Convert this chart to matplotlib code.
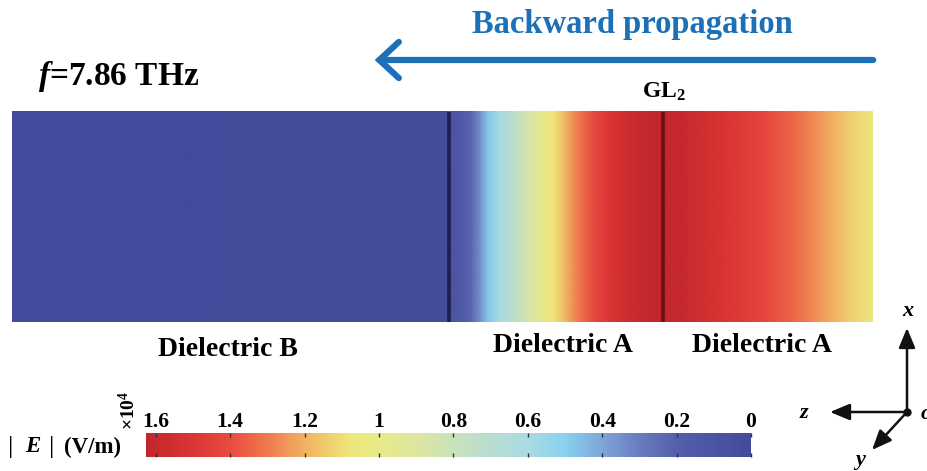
import matplotlib
matplotlib.use('Agg')
import matplotlib.pyplot as plt
from matplotlib.colors import LinearSegmentedColormap, Normalize
from matplotlib.image import NonUniformImage
from matplotlib.patches import FancyArrowPatch
import numpy as np

plt.rcParams['font.family'] = ['Liberation Serif', 'DejaVu Serif']
plt.rcParams['font.weight'] = 'bold'
plt.rcParams['mathtext.fontset'] = 'custom'
plt.rcParams['mathtext.rm'] = 'Liberation Serif:bold'
plt.rcParams['mathtext.it'] = 'Liberation Serif:italic:bold'
plt.rcParams['mathtext.bf'] = 'Liberation Serif:bold'

# |E| profile along z (x1e4 V/m), z in units of 10 px across the map
z_pos = [0.0, 43.6, 44.0, 45.0, 45.8, 46.6, 47.6, 48.8, 50.1, 51.6, 53.1,
         54.1, 55.1, 56.1, 57.1, 58.3, 59.8, 61.8, 63.8, 65.1, 66.8, 68.8,
         71.8, 74.8, 77.8, 79.8, 81.8, 83.8, 86.0]
e_mag = [0.0, 0.02, 0.09, 0.15, 0.22, 0.33, 0.48, 0.60, 0.72, 0.87, 1.00,
         1.08, 1.17, 1.26, 1.34, 1.42, 1.50, 1.57, 1.61, 1.62, 1.60, 1.56,
         1.49, 1.43, 1.35, 1.28, 1.21, 1.13, 1.05]
x_span = [0.0, 21.0]

# layer interfaces
boundary_z = [43.7, 65.1]
boundary_colors = ['#1c2050', '#6a1014']

e_max = 1.626
cbar_ticks = [1.6, 1.4, 1.2, 1.0, 0.8, 0.6, 0.4, 0.2, 0.0]
cbar_labels = ['1.6', '1.4', '1.2', '1', '0.8', '0.6', '0.4', '0.2', '0']

cmap_vals = [0.0, 0.2, 0.3, 0.4, 0.5, 0.6, 0.7, 0.8, 0.9, 1.0, 1.08, 1.2,
             1.3, 1.4, 1.5, 1.626]
cmap_cols = ['#434a9b', '#5560ac', '#6a7cc0', '#7fa6d8', '#88d2f0', '#aadbe0',
             '#b8ddd0', '#c9e2ba', '#dde6a0', '#e8e98a', '#eee67a', '#f2b262',
             '#ef7a4e', '#e84c40', '#dc3535', '#c0272b']
cmap = LinearSegmentedColormap.from_list(
    'field', [(v / e_max, c) for v, c in zip(cmap_vals, cmap_cols)])
norm = Normalize(vmin=0, vmax=e_max)

W, H = 928, 471
fig = plt.figure(figsize=(W / 100, H / 100), dpi=100)


def px_axes(left, top, right, bottom):
    return fig.add_axes([left / W, 1 - bottom / H, (right - left) / W, (bottom - top) / H])


# field map
ax = px_axes(12, 112, 872, 322)
im = NonUniformImage(ax, interpolation='bilinear', cmap=cmap, norm=norm,
                     extent=(z_pos[0], z_pos[-1], x_span[0], x_span[1]))
im.set_data(np.array(z_pos), np.array(x_span), np.vstack([e_mag, e_mag]))
ax.add_image(im)
for zb, col in zip(boundary_z, boundary_colors):
    ax.axvline(zb, color=col, lw=2.6)
ax.set_xlim(z_pos[0], z_pos[-1])
ax.set_ylim(x_span)
ax.axis('off')

# colorbar
cax = px_axes(146, 433, 751, 457)
cb = fig.colorbar(im, cax=cax, orientation='horizontal')
cb.outline.set_visible(False)
cax.invert_xaxis()
cb.set_ticks(cbar_ticks)
cb.set_ticklabels(cbar_labels)
cax.tick_params(axis='x', direction='in', top=True, bottom=True, labeltop=True,
                labelbottom=False, length=3, width=1, color='#333333',
                labelsize=15.5, pad=1)
for lab in cax.get_xticklabels():
    lab.set_fontweight('bold')

# annotation layer in pixel coordinates
ov = fig.add_axes([0, 0, 1, 1], facecolor='none')
ov.set_xlim(0, W)
ov.set_ylim(H, 0)
ov.axis('off')

blue = '#1b70b8'
ov.text(632, 24, 'Backward propagation', color=blue, fontsize=23.5,
        fontweight='bold', ha='center', va='center')
ov.add_patch(FancyArrowPatch((876, 60), (372, 60),
                             arrowstyle='->,head_length=14,head_width=13',
                             mutation_scale=1, color=blue, lw=4.5,
                             capstyle='round', joinstyle='miter'))

ov.text(38, 76, r'$\mathit{f}$=7.86 THz', fontsize=24, ha='left', va='center')
ov.text(664, 92, r'GL$_\mathrm{2}$', fontsize=17, ha='center', va='center')

ov.text(228, 349, 'Dielectric B', fontsize=20, ha='center', va='center')
ov.text(563, 346, 'Dielectric A', fontsize=20, ha='center', va='center')
ov.text(762, 346, 'Dielectric A', fontsize=20, ha='center', va='center')

ov.text(8, 447, '|', fontsize=19, fontweight='normal', ha='left', va='center')
ov.text(25, 447, r'$\mathit{E}$', fontsize=16.5, ha='left', va='center')
ov.text(49, 447, '|', fontsize=19, fontweight='normal', ha='left', va='center')
ov.text(64, 447, '(V/m)', fontsize=16.5, ha='left', va='center')
ov.text(128, 410, r'×10$^\mathrm{4}$', fontsize=14, rotation=90,
        ha='center', va='center')

# coordinate triad
origin = (907, 412)
for tip in [(907, 328), (830, 412), (872, 450)]:
    ov.add_patch(FancyArrowPatch(origin, tip, arrowstyle='-|>,head_length=12,head_width=5',
                                 mutation_scale=1, color='#111111', lw=1.8,
                                 shrinkA=0, shrinkB=0))
ov.plot(*origin, 'o', color='#111111', ms=5)
ov.text(908, 311, 'x', fontsize=16, style='italic', ha='center', va='center')
ov.text(804, 413, 'z', fontsize=16, style='italic', ha='center', va='center')
ov.text(860, 460, 'y', fontsize=16, style='italic', ha='center', va='center')
ov.text(921, 414, 'o', fontsize=16, style='italic', ha='left', va='center')

fig.savefig('out.png', dpi=100, facecolor='white')
